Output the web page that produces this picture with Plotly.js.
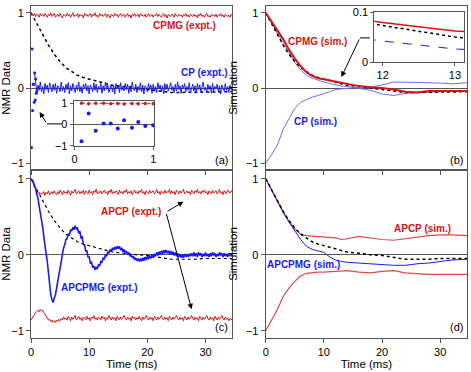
<!DOCTYPE html>
<html>
<head>
<meta charset="utf-8">
<script src="https://cdn.plot.ly/plotly-3.0.1.min.js"></script>
<style>
  body { margin: 0; background: #fff; }
  #gd { width: 471px; height: 372px; }
</style>
</head>
<body>
<div id="gd"></div>
<script>
// time grid of the measured (noisy) traces, ms
let tGrid = [
  0, 0.2, 0.4, 0.6, 0.8, 1, 1.2, 1.4, 1.6, 1.8,
  2, 2.2, 2.4, 2.6, 2.8, 3, 3.2, 3.4, 3.6, 3.8,
  4, 4.2, 4.4, 4.6, 4.8, 5, 5.2, 5.4, 5.6, 5.8,
  6, 6.2, 6.4, 6.6, 6.8, 7, 7.2, 7.4, 7.6, 7.8,
  8, 8.2, 8.4, 8.6, 8.8, 9, 9.2, 9.4, 9.6, 9.8,
  10, 10.2, 10.4, 10.6, 10.8, 11, 11.2, 11.4, 11.6, 11.8,
  12, 12.2, 12.4, 12.6, 12.8, 13, 13.2, 13.4, 13.6, 13.8,
  14, 14.2, 14.4, 14.6, 14.8, 15, 15.2, 15.4, 15.6, 15.8,
  16, 16.2, 16.4, 16.6, 16.8, 17, 17.2, 17.4, 17.6, 17.8,
  18, 18.2, 18.4, 18.6, 18.8, 19, 19.2, 19.4, 19.6, 19.8,
  20, 20.2, 20.4, 20.6, 20.8, 21, 21.2, 21.4, 21.6, 21.8,
  22, 22.2, 22.4, 22.6, 22.8, 23, 23.2, 23.4, 23.6, 23.8,
  24, 24.2, 24.4, 24.6, 24.8, 25, 25.2, 25.4, 25.6, 25.8,
  26, 26.2, 26.4, 26.6, 26.8, 27, 27.2, 27.4, 27.6, 27.8,
  28, 28.2, 28.4, 28.6, 28.8, 29, 29.2, 29.4, 29.6, 29.8,
  30, 30.2, 30.4, 30.6, 30.8, 31, 31.2, 31.4, 31.6, 31.8,
  32, 32.2, 32.4, 32.6, 32.8, 33, 33.2, 33.4, 33.6, 33.8,
  34, 34.2, 34.4, 34.6
];

// (a) CPMG experiment
let cpmgExp = [
  1.00, 0.99, 0.96, 0.99, 0.95, 0.98, 0.97, 0.94, 0.99, 0.96,
  0.98, 0.95, 0.99, 0.97, 0.94, 0.98, 0.96, 1.00, 0.95, 0.97,
  0.99, 0.94, 0.97, 0.98, 0.95, 0.99, 0.96, 0.93, 0.98, 0.97,
  0.95, 0.99, 0.96, 0.98, 0.94, 0.97, 1.00, 0.95, 0.97, 0.96,
  0.99, 0.94, 0.98, 0.96, 0.97, 0.93, 0.99, 0.96, 0.98, 0.95,
  0.97, 0.99, 0.94, 0.98, 0.96, 1.00, 0.95, 0.97, 0.94, 0.99,
  0.96, 0.98, 0.95, 0.97, 0.99, 0.94, 0.98, 0.96, 0.93, 0.98,
  0.97, 0.95, 0.99, 0.96, 0.98, 0.94, 0.97, 0.99, 0.95, 0.97,
  0.98, 0.94, 0.96, 0.99, 0.95, 0.97, 0.93, 0.98, 0.96, 0.99,
  0.95, 0.97, 0.98, 0.94, 0.99, 0.96, 0.97, 0.95, 0.98, 0.94,
  0.97, 0.99, 0.95, 0.96, 0.98, 0.94, 0.97, 0.96, 0.99, 0.95,
  0.98, 0.96, 0.94, 0.97, 0.99, 0.95, 0.97, 0.93, 0.98, 0.96,
  0.95, 0.98, 0.97, 0.94, 0.99, 0.96, 0.95, 0.98, 0.96, 0.97,
  0.94, 0.98, 0.96, 0.99, 0.95, 0.97, 0.94, 0.98, 0.96, 0.95,
  0.98, 0.95, 0.97, 0.93, 0.98, 0.96, 0.99, 0.95, 0.97, 0.94,
  0.97, 0.99, 0.95, 0.96, 0.94, 0.98, 0.96, 0.97, 0.95, 0.98,
  0.94, 0.97, 0.96, 0.99, 0.95, 0.97, 0.94, 0.98, 0.96, 0.95,
  0.97, 0.94, 0.98, 0.96
];

// (a) CP experiment
let cpExp = [
  null, null, null, 0.22, 0.05, -0.07, 0.04, -0.03, 0.08, -0.05,
  0.02, -0.08, 0.06, -0.02, 0.04, -0.06, 0.07, -0.01, -0.05, 0.05,
  -0.03, 0.06, -0.07, 0.03, 0.01, -0.05, 0.08, -0.04, 0.02, -0.06,
  0.05, -0.02, 0.07, -0.08, 0.03, -0.04, 0.06, 0.00, -0.06, 0.04,
  -0.03, 0.08, -0.05, 0.02, -0.07, 0.05, -0.01, 0.06, -0.04, 0.03,
  -0.08, 0.04, 0.01, -0.05, 0.07, -0.03, 0.05, -0.06, 0.02, -0.02,
  0.06, -0.07, 0.03, -0.04, 0.08, -0.02, 0.04, -0.06, 0.01, 0.05,
  -0.05, 0.03, -0.08, 0.06, -0.01, 0.04, -0.06, 0.07, -0.03, 0.02,
  -0.04, 0.06, -0.02, 0.05, -0.07, 0.03, -0.05, 0.08, -0.01, -0.04,
  0.05, -0.06, 0.02, -0.03, 0.07, -0.05, 0.04, -0.08, 0.03, 0.01,
  -0.05, 0.06, -0.02, 0.04, -0.07, 0.05, -0.03, 0.02, -0.06, 0.07,
  -0.01, 0.04, -0.05, 0.03, -0.08, 0.06, -0.02, 0.05, -0.04, 0.01,
  0.07, -0.03, 0.02, -0.06, 0.05, -0.04, 0.08, -0.02, 0.03, -0.07,
  0.04, -0.01, 0.06, -0.05, 0.02, -0.03, 0.07, -0.06, 0.01, 0.05,
  -0.04, 0.03, -0.07, 0.06, -0.02, 0.04, -0.05, 0.02, 0.08, -0.03,
  0.01, -0.06, 0.05, -0.02, 0.03, -0.07, 0.06, -0.04, 0.02, -0.01,
  0.05, -0.05, 0.03, -0.08, 0.04, 0.00, -0.04, 0.06, -0.03, 0.02,
  -0.06, 0.04, -0.02, 0.03
];

// first echoes (inset of a)
let echoT = [0.09, 0.18, 0.27, 0.37, 0.46, 0.55, 0.63, 0.73, 0.81, 0.90, 1.0];
let cpEarly = [-0.79, 0.52, -0.30, 0.05, 0.05, -0.19, 0.20, -0.16, 0.12, -0.07, -0.04];
let cpmgEarly = [1.0, 0.98, 1.0, 1.0, 0.98, 0.99, 0.97, 0.99, 0.98, 0.99, 0.98];

// (c) APCP experiment, two branches
let apcpExpUp = [
  1.00, 0.97, 0.93, 0.89, 0.86, 0.83, 0.80, 0.82, 0.79, 0.81,
  0.80, 0.83, 0.78, 0.82, 0.80, 0.84, 0.79, 0.81, 0.83, 0.80,
  0.84, 0.81, 0.79, 0.83, 0.80, 0.85, 0.82, 0.79, 0.84, 0.81,
  0.83, 0.80, 0.85, 0.82, 0.78, 0.84, 0.81, 0.83, 0.86, 0.80,
  0.82, 0.84, 0.80, 0.83, 0.81, 0.85, 0.79, 0.84, 0.82, 0.80,
  0.85, 0.81, 0.83, 0.79, 0.84, 0.82, 0.86, 0.80, 0.83, 0.81,
  0.84, 0.80, 0.82, 0.85, 0.81, 0.83, 0.79, 0.84, 0.82, 0.86,
  0.80, 0.83, 0.81, 0.84, 0.82, 0.79, 0.85, 0.81, 0.83, 0.80,
  0.84, 0.82, 0.86, 0.80, 0.83, 0.81, 0.84, 0.79, 0.82, 0.85,
  0.81, 0.83, 0.80, 0.84, 0.82, 0.86, 0.81, 0.83, 0.79, 0.84,
  0.82, 0.80, 0.85, 0.81, 0.83, 0.84, 0.80, 0.82, 0.86, 0.81,
  0.83, 0.79, 0.84, 0.82, 0.80, 0.85, 0.81, 0.83, 0.82, 0.86,
  0.80, 0.84, 0.81, 0.83, 0.79, 0.85, 0.82, 0.80, 0.84, 0.81,
  0.83, 0.86, 0.80, 0.82, 0.84, 0.81, 0.83, 0.79, 0.85, 0.82,
  0.80, 0.84, 0.82, 0.86, 0.81, 0.83, 0.80, 0.84, 0.82, 0.85,
  0.81, 0.83, 0.79, 0.84, 0.82, 0.80, 0.85, 0.81, 0.83, 0.84,
  0.80, 0.82, 0.86, 0.81, 0.83, 0.79, 0.84, 0.82, 0.80, 0.85,
  0.82, 0.81, 0.84, 0.83
];
let apcpExpDn = [
  -0.86, -0.83, -0.80, -0.78, -0.76, -0.75, -0.73, -0.75, -0.72, -0.74,
  -0.73, -0.76, -0.78, -0.81, -0.83, -0.86, -0.85, -0.88, -0.86, -0.89,
  -0.87, -0.89, -0.86, -0.88, -0.85, -0.87, -0.84, -0.86, -0.82, -0.85,
  -0.83, -0.86, -0.81, -0.84, -0.87, -0.82, -0.85, -0.83, -0.80, -0.86,
  -0.84, -0.81, -0.85, -0.83, -0.87, -0.82, -0.84, -0.86, -0.81, -0.85,
  -0.83, -0.87, -0.82, -0.84, -0.80, -0.85, -0.83, -0.86, -0.82, -0.84,
  -0.86, -0.81, -0.84, -0.82, -0.87, -0.83, -0.85, -0.80, -0.84, -0.86,
  -0.82, -0.85, -0.83, -0.87, -0.81, -0.84, -0.86, -0.82, -0.85, -0.83,
  -0.80, -0.84, -0.86, -0.82, -0.85, -0.83, -0.87, -0.81, -0.84, -0.82,
  -0.86, -0.83, -0.85, -0.81, -0.84, -0.87, -0.82, -0.85, -0.83, -0.80,
  -0.84, -0.86, -0.82, -0.85, -0.83, -0.87, -0.81, -0.84, -0.86, -0.82,
  -0.85, -0.83, -0.80, -0.84, -0.86, -0.82, -0.85, -0.83, -0.87, -0.81,
  -0.84, -0.86, -0.82, -0.85, -0.83, -0.80, -0.84, -0.86, -0.82, -0.85,
  -0.83, -0.87, -0.81, -0.84, -0.86, -0.82, -0.85, -0.83, -0.80, -0.84,
  -0.86, -0.82, -0.85, -0.83, -0.87, -0.81, -0.84, -0.86, -0.82, -0.85,
  -0.83, -0.80, -0.84, -0.86, -0.82, -0.85, -0.83, -0.87, -0.81, -0.84,
  -0.86, -0.82, -0.85, -0.83, -0.80, -0.84, -0.86, -0.82, -0.85, -0.83,
  -0.87, -0.84, -0.85, -0.86
];

// (c) APCPMG experiment
let apcpmgExp = [
  1.00, 0.97, 0.96, 0.90, 0.87, 0.79, 0.74, 0.64, 0.56, 0.45,
  0.37, 0.24, 0.15, 0.01, -0.09, -0.26, -0.39, -0.53, -0.59, -0.63,
  -0.57, -0.53, -0.44, -0.37, -0.26, -0.18, -0.06, 0.00, 0.09, 0.13,
  0.20, 0.21, 0.27, 0.26, 0.33, 0.31, 0.36, 0.33, 0.38, 0.34,
  0.35, 0.28, 0.31, 0.22, 0.23, 0.13, 0.13, 0.05, 0.05, -0.03,
  -0.03, -0.11, -0.10, -0.17, -0.15, -0.20, -0.16, -0.19, -0.13, -0.15,
  -0.09, -0.10, -0.04, -0.06, 0.00, -0.02, 0.04, 0.02, 0.07, 0.04,
  0.09, 0.06, 0.10, 0.07, 0.11, 0.08, 0.11, 0.06, 0.09, 0.04,
  0.07, 0.02, 0.05, 0.00, 0.03, -0.02, 0.00, -0.04, -0.02, -0.07,
  -0.04, -0.08, -0.05, -0.09, -0.05, -0.09, -0.04, -0.08, -0.03, -0.07,
  -0.02, -0.06, -0.01, -0.05, 0.00, -0.04, 0.01, -0.02, 0.03, -0.01,
  0.04, 0.00, 0.05, 0.01, 0.06, 0.02, 0.06, 0.02, 0.05, 0.01,
  0.05, 0.00, 0.04, -0.01, 0.03, -0.02, 0.02, -0.03, 0.01, -0.04,
  0.00, -0.04, 0.01, -0.03, 0.01, -0.03, 0.01, -0.02, 0.02, -0.02,
  0.03, -0.02, 0.02, -0.03, 0.03, -0.01, 0.02, -0.03, 0.01, -0.02,
  0.03, -0.02, 0.01, -0.03, 0.02, -0.02, 0.03, -0.01, 0.02, -0.03,
  0.01, -0.02, 0.03, -0.01, 0.02, -0.03, 0.02, -0.02, 0.01, -0.03,
  0.02, -0.01, 0.01, -0.02
];

// simulations, ms
let tSim = [0, 1, 2, 3, 4, 5, 6, 7, 8, 9, 10, 11, 12, 13, 14, 16, 18, 20, 22, 24, 26, 28, 30, 32, 34.6];
let simRef    = [1, 0.85, 0.70, 0.57, 0.45, 0.35, 0.27, 0.22, 0.17, 0.14, 0.12, 0.095, 0.073, 0.05, 0.035, 0.02, 0.0, -0.01, -0.04, -0.06, -0.06, -0.06, -0.05, -0.05, -0.05];
let cpmgSim   = [1, 0.88, 0.76, 0.65, 0.51, 0.39, 0.29, 0.21, 0.16, 0.13, 0.115, 0.10, 0.079, 0.062, 0.045, 0.025, 0.01, 0.0, -0.02, -0.05, -0.06, -0.04, -0.04, -0.04, -0.04];
let cpSimUp   = [1, 0.86, 0.73, 0.60, 0.47, 0.34, 0.24, 0.17, 0.13, 0.10, 0.08, 0.06, 0.042, 0.026, 0.02, -0.01, -0.03, -0.08, -0.10, -0.07, -0.06, -0.05, -0.05, -0.04, -0.04];
let cpSimDn   = [-1, -0.89, -0.76, -0.55, -0.41, -0.27, -0.19, -0.15, -0.12, -0.10, -0.08, -0.05, -0.02, -0.01, 0.0, 0.01, 0.015, 0.04, 0.08, 0.08, 0.07, 0.07, 0.065, 0.055, 0.07];
let apcpSimUp = [1, 0.85, 0.70, 0.56, 0.44, 0.34, 0.27, 0.25, 0.245, 0.24, 0.235, 0.23, 0.22, 0.20, 0.21, 0.24, 0.22, 0.20, 0.19, 0.21, 0.23, 0.25, 0.26, 0.26, 0.25];
let apcpSimDn = [-1, -0.86, -0.72, -0.55, -0.44, -0.35, -0.28, -0.245, -0.235, -0.23, -0.23, -0.225, -0.22, -0.21, -0.21, -0.23, -0.24, -0.22, -0.21, -0.24, -0.25, -0.26, -0.26, -0.26, -0.26];
let apcpmgSim = [1, 0.85, 0.70, 0.56, 0.43, 0.31, 0.20, 0.11, 0.07, 0.05, 0.03, -0.03, -0.07, -0.09, -0.10, -0.11, -0.12, -0.13, -0.14, -0.14, -0.12, -0.11, -0.09, -0.07, -0.06];

const FONT = 'Arial, "Liberation Sans", sans-serif';
const RED = 'rgb(215, 20, 20)';
const BLUE = 'rgb(25, 25, 245)';
const LIGHTBLUE = 'rgb(110, 110, 255)';
const LIGHTRED = 'rgb(225, 70, 70)';

function line(x, y, xa, ya, color, width, dash) {
  return {x: x, y: y, xaxis: xa, yaxis: ya, mode: 'lines', hoverinfo: 'skip',
    line: {color: color, width: width, dash: dash || 'solid'}};
}
function dots(x, y, xa, ya, color, size) {
  return {x: x, y: y, xaxis: xa, yaxis: ya, mode: 'markers', hoverinfo: 'skip',
    marker: {color: color, size: size}};
}

let data = [
  // (a)
  line(tSim, simRef, 'x', 'y', '#000', 1.5, 'dot'),
  line(tGrid, cpmgExp, 'x', 'y', RED, 1),
  line(tGrid, cpExp, 'x', 'y', BLUE, 1),
  dots(echoT, cpEarly, 'x', 'y', BLUE, 3),
  // inset (a)
  {x: echoT, y: cpmgEarly, xaxis: 'x5', yaxis: 'y5', mode: 'lines+markers', hoverinfo: 'skip',
    line: {color: RED, width: 1, dash: 'dot'}, marker: {color: RED, size: 3.5}},
  dots(echoT, cpEarly, 'x5', 'y5', BLUE, 4),
  // (b)
  line(tSim, cpSimDn, 'x2', 'y2', LIGHTBLUE, 1),
  line(tSim, cpSimUp, 'x2', 'y2', LIGHTBLUE, 1),
  line(tSim, simRef, 'x2', 'y2', '#000', 1.5, 'dot'),
  line(tSim, cpmgSim, 'x2', 'y2', RED, 2),
  // inset (b)
  line(tSim, cpSimUp, 'x6', 'y6', BLUE, 1, 'dash'),
  line(tSim, simRef, 'x6', 'y6', '#000', 1.5, 'dot'),
  line(tSim, cpmgSim, 'x6', 'y6', RED, 1.5),
  // (c)
  line(tSim, simRef, 'x3', 'y3', '#000', 1.2, 'dot'),
  line(tGrid, apcpExpUp, 'x3', 'y3', RED, 1),
  line(tGrid, apcpExpDn, 'x3', 'y3', RED, 1),
  line(tGrid, apcpmgExp, 'x3', 'y3', BLUE, 1.6),
  // (d)
  line(tSim, apcpSimUp, 'x4', 'y4', LIGHTRED, 1.2),
  line(tSim, apcpSimDn, 'x4', 'y4', LIGHTRED, 1.2),
  line(tSim, apcpmgSim, 'x4', 'y4', BLUE, 1),
  line(tSim, simRef, 'x4', 'y4', '#000', 1.5, 'dot')
];

function ax(extra) {
  let base = {
    showgrid: false, zeroline: false, showline: true, mirror: true,
    linecolor: '#555', linewidth: 1, ticks: 'outside', ticklen: 4,
    tickcolor: '#555', tickfont: {family: FONT, size: 11, color: '#000'}
  };
  return Object.assign(base, extra);
}
const TOP = [0.506, 1];
const BOT = [0, 0.506];
const LEFT = [0, 0.4617];
const RIGHT = [0.5383, 1];
const yZero = {zeroline: true, zerolinecolor: '#555', zerolinewidth: 1};
const titleFont = {family: FONT, size: 11.5};

function label(text, x, y, xr, yr, color) {
  return {text: '<b>' + text + '</b>', x: x, y: y, xref: xr, yref: yr, showarrow: false,
    font: {family: FONT, size: 10, color: color}};
}
function panelTag(text, xr, yr) {
  return {text: text, x: 0.99, y: 0.015, xref: xr + ' domain', yref: yr + ' domain',
    xanchor: 'right', yanchor: 'bottom', showarrow: false,
    font: {family: FONT, size: 11, color: '#000'}};
}
function arrow(x, y, x0, y0, xr, yr) {
  return {text: '', x: x, y: y, ax: x0, ay: y0, xref: xr, yref: yr, axref: xr, ayref: yr,
    showarrow: true, arrowhead: 2, arrowsize: 1.1, arrowwidth: 1, arrowcolor: '#000', standoff: 0};
}

let layout = {
  width: 471, height: 372,
  margin: {l: 31, r: 4, t: 6, b: 34},
  paper_bgcolor: '#fff', plot_bgcolor: 'rgba(0,0,0,0)',
  showlegend: false,
  font: {family: FONT, size: 11, color: '#000'},
  xaxis: ax({domain: LEFT, anchor: 'y', range: [0, 34.6], dtick: 10, showticklabels: false}),
  yaxis: ax(Object.assign({domain: TOP, anchor: 'x', range: [-1.09, 1.09], dtick: 1,
    title: {text: 'NMR Data', font: titleFont, standoff: 5}}, yZero)),
  xaxis2: ax({domain: RIGHT, anchor: 'y2', range: [0, 34.6], dtick: 10, showticklabels: false}),
  yaxis2: ax(Object.assign({domain: TOP, anchor: 'x2', range: [-1.09, 1.09], dtick: 1,
    title: {text: 'Simulation', font: titleFont, standoff: 5}}, yZero)),
  xaxis3: ax({domain: LEFT, anchor: 'y3', range: [0, 34.6], dtick: 10,
    title: {text: 'Time (ms)', font: titleFont, standoff: 0}}),
  yaxis3: ax(Object.assign({domain: BOT, anchor: 'x3', range: [-1.096, 1.114], dtick: 1,
    title: {text: 'NMR Data', font: titleFont, standoff: 5}}, yZero)),
  xaxis4: ax({domain: RIGHT, anchor: 'y4', range: [0, 34.6], dtick: 10,
    title: {text: 'Time (ms)', font: titleFont, standoff: 0}}),
  yaxis4: ax(Object.assign({domain: BOT, anchor: 'x4', range: [-1.096, 1.114], dtick: 1,
    title: {text: 'Simulation', font: titleFont, standoff: 5}}, yZero)),
  // inset of (a)
  xaxis5: ax({domain: [0.0979, 0.2821], anchor: 'y5', range: [-0.01, 1.01], dtick: 1, ticklen: 3}),
  yaxis5: ax(Object.assign({domain: [0.5792, 0.7148], anchor: 'x5', range: [-1, 1.12], dtick: 1, ticklen: 3}, yZero)),
  // inset of (b)
  xaxis6: ax({domain: [0.7874, 0.9938], anchor: 'y6', range: [11.884, 13.13], dtick: 1, ticklen: 3}),
  yaxis6: ax({domain: [0.8313, 0.9819], anchor: 'x6', range: [0, 0.1], tickvals: [0, 0.1], ticktext: ['0', '0.1'], ticklen: 3}),
  annotations: [
    label('CPMG (expt.)', 26.4, 0.825, 'x', 'y', RED),
    label('CP (expt.)', 29.9, 0.2, 'x', 'y', BLUE),
    label('CPMG (sim.)', 8.97, 0.613, 'x2', 'y2', RED),
    label('CP (sim.)', 8.63, -0.446, 'x2', 'y2', BLUE),
    label('APCP (expt.)', 17.2, 0.562, 'x3', 'y3', RED),
    label('APCPMG (expt.)', 11.7, -0.438, 'x3', 'y3', BLUE),
    label('APCP (sim.)', 27.0, 0.351, 'x4', 'y4', RED),
    label('APCPMG (sim.)', 6.57, -0.124, 'x4', 'y4', BLUE),
    panelTag('(a)', 'x', 'y'),
    panelTag('(b)', 'x2', 'y2'),
    panelTag('(c)', 'x3', 'y3'),
    panelTag('(d)', 'x4', 'y4'),
    arrow(1.48, -0.318, 2.74, -0.477, 'x', 'y'),
    arrow(13.0, 0.146, 16.2, 0.666, 'x2', 'y2'),
    arrow(26.2, 0.697, 23.2, 0.558, 'x3', 'y3'),
    arrow(27.6, -0.718, 23.2, 0.558, 'x3', 'y3')
  ],
  shapes: [
    {type: 'line', xref: 'x', yref: 'y', x0: 2.74, y0: -0.477, x1: 5.32, y1: -0.477, line: {color: '#000', width: 1}},
    {type: 'line', xref: 'x2', yref: 'y2', x0: 16.2, y0: 0.666, x1: 17.9, y1: 0.666, line: {color: '#000', width: 1}}
  ]
};

Plotly.newPlot('gd', data, layout, {displayModeBar: false, staticPlot: true});
</script>
</body>
</html>
